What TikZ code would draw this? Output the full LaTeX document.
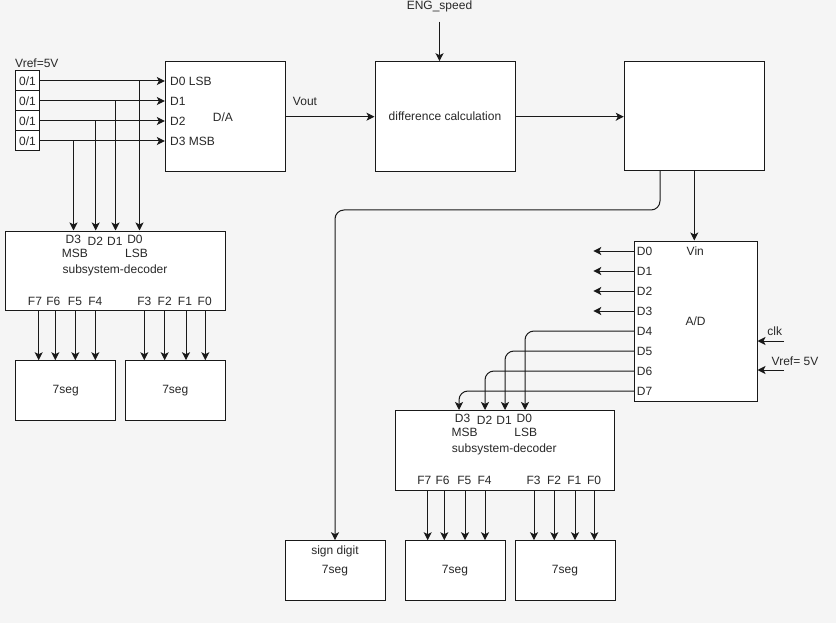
\documentclass[tikz,border=0pt]{standalone}
\usepackage{fontspec}
\setmainfont{Liberation Sans}
\usetikzlibrary{arrows.meta,calc}
\definecolor{bgc}{RGB}{245,245,245}
\definecolor{lnc}{RGB}{25,25,25}
\definecolor{txc}{RGB}{40,40,40}
\newcommand\myfs{\fontsize{12}{14}\selectfont}
\tikzset{
  box/.style={draw=lnc, fill=white, line width=1pt, inner sep=0pt, text=txc, font=\myfs},
  lbl/.style={inner sep=0pt, text=txc, font=\myfs},
  arr/.style={draw=lnc, line width=1pt, -{Stealth[length=8pt,width=8pt,inset=2pt]}},
  wire/.style={draw=lnc, line width=1pt},
}
\begin{document}
\begin{tikzpicture}[x=1pt,y=-1pt]
\fill[bgc] (0,0) rectangle (836,623);
\useasboundingbox (0,0) rectangle (836,623);

% ---------- left: bit inputs and D/A ----------
\node[lbl, anchor=west] (vref1) at (15,63) {Vref=5V};
\node[box, minimum width=24, minimum height=20] (b0) at (27.5,81) {0/1};
\node[box, minimum width=24, minimum height=20] (b1) at (27.5,101) {0/1};
\node[box, minimum width=24, minimum height=20] (b2) at (27.5,121) {0/1};
\node[box, minimum width=24, minimum height=20] (b3) at (27.5,141) {0/1};

\node[box, minimum width=120, minimum height=110] (da) at (225.3,116.7) {};
\node[lbl, anchor=west] (da0) at (170,81) {D0 LSB};
\node[lbl, anchor=west] (da1) at (170,101) {D1};
\node[lbl, anchor=west] (da2) at (170,121) {D2};
\node[lbl, anchor=west] (da3) at (170,141) {D3 MSB};
\node[lbl] (dat) at (223,117) {D/A};

\draw[arr] (b0.east) -- (b0.east -| da.west);
\draw[arr] (b1.east) -- (b1.east -| da.west);
\draw[arr] (b2.east) -- (b2.east -| da.west);
\draw[arr] (b3.east) -- (b3.east -| da.west);

% ---------- decoder 1 ----------
\node[box, minimum width=219.6, minimum height=79.7] (dec1) at (115.5,270.85) {};
\node[lbl] at (73.3,239.7) {D3};
\node[lbl] at (75,253.2) {MSB};
\node[lbl] at (95.3,241.7) {D2};
\node[lbl] at (114.8,241.7) {D1};
\node[lbl] at (135,239.7) {D0};
\node[lbl] at (136.5,253.2) {LSB};
\node[lbl] at (115,270.5) {subsystem-decoder};
\foreach \t/\x in {F7/35,F6/53.3,F5/75,F4/95.3,F3/144.3,F2/164.7,F1/185,F0/204.7}
  \node[lbl] at (\x,301.7) {\t};

\coordinate (t0) at (139.5,81);
\coordinate (t1) at (115.5,101);
\coordinate (t2) at (95.7,121);
\coordinate (t3) at (73.5,141);
\draw[arr] (t0) -- (t0 |- dec1.north);
\draw[arr] (t1) -- (t1 |- dec1.north);
\draw[arr] (t2) -- (t2 |- dec1.north);
\draw[arr] (t3) -- (t3 |- dec1.north);

\node[box, minimum width=100, minimum height=60] (s1a) at (65.7,390.7) {7seg};
\node[box, minimum width=100, minimum height=60] (s1b) at (175.3,390.7) {7seg};
\foreach \x in {38.7,55.3,75.3,95.3}
  \draw[arr] (\x,0 |- dec1.south) -- (\x,0 |- s1a.north);
\foreach \x in {144.3,164.7,186,205.3}
  \draw[arr] (\x,0 |- dec1.south) -- (\x,0 |- s1b.north);

% ---------- difference calculation ----------
\node[box, minimum width=140, minimum height=110] (diff) at (445,116.7) {difference calculation};
\node[box, minimum width=140, minimum height=109] (blk) at (694.3,116.2) {};
\node[lbl] (eng) at (439.5,6.5) {ENG\_speed};
\coordinate (engs) at (439.5,21.7);
\draw[arr] (engs) -- (engs |- diff.north);
\node[lbl] (vout) at (305,101) {Vout};
\draw[arr] (da.east) -- (da.east -| diff.west);
\draw[arr] (diff.east) -- (diff.east -| blk.west);

% ---------- A/D ----------
\node[box, minimum width=122.7, minimum height=160] (ad) at (695.65,321) {};
\draw[arr] (blk.south) -- (blk.south |- ad.north);
\node[lbl] at (695.3,251.3) {Vin};
\node[lbl] at (695.5,321.7) {A/D};
\foreach \i/\y in {0/251,1/271,2/291,3/311,4/331,5/351,6/371,7/391}
  \node[lbl, anchor=west] (adl\i) at (636.7,\y) {D\i};
\foreach \i/\y in {0/251,1/271,2/291,3/311}{
  \coordinate (ado\i) at (593.3,\y);
  \draw[arr] (ado\i -| ad.west) -- (ado\i);
}
\node[lbl] (clk) at (774.7,331.7) {clk};
\coordinate (clks) at (784,341);
\draw[arr] (clks) -- (clks -| ad.east);
\node[lbl] (vref2) at (795,361.3) {Vref= 5V};
\coordinate (vrs) at (784,370);
\draw[arr] (vrs) -- (vrs -| ad.east);

% ---------- decoder 2 ----------
\node[box, minimum width=219.6, minimum height=79.7] (dec2) at (505,450.35) {};
\node[lbl] at (462.6,418.7) {D3};
\node[lbl] at (464.6,432.2) {MSB};
\node[lbl] at (484.6,420.7) {D2};
\node[lbl] at (504.1,420.7) {D1};
\node[lbl] at (524.3,418.7) {D0};
\node[lbl] at (525.8,432.2) {LSB};
\node[lbl] at (504.3,449.5) {subsystem-decoder};
\foreach \t/\x in {F7/424.3,F6/442.6,F5/464.3,F4/484.6,F3/533.6,F2/554,F1/574.3,F0/594}
  \node[lbl] at (\x,480.7) {\t};

\draw[arr, rounded corners=9pt] (ad.west |- 0,331) -- (525,331) -- (525,0 |- dec2.north);
\draw[arr, rounded corners=9pt] (ad.west |- 0,351) -- (505,351) -- (505,0 |- dec2.north);
\draw[arr, rounded corners=9pt] (ad.west |- 0,371) -- (485,371) -- (485,0 |- dec2.north);
\draw[arr, rounded corners=9pt] (ad.west |- 0,391) -- (459,391) -- (459,0 |- dec2.north);

% ---------- bottom displays ----------
\node[box, minimum width=100, minimum height=60] (sgn) at (335,570.7) {};
\node[lbl] at (335,551) {sign digit};
\node[lbl] at (335,570.7) {7seg};
\node[box, minimum width=100, minimum height=60] (s2a) at (455,570.7) {7seg};
\node[box, minimum width=100, minimum height=60] (s2b) at (565,570.7) {7seg};
\foreach \x in {427.7,444.3,465,485}
  \draw[arr] (\x,0 |- dec2.south) -- (\x,0 |- s2a.north);
\foreach \x in {534,554.3,575,594.3}
  \draw[arr] (\x,0 |- dec2.south) -- (\x,0 |- s2b.north);

\draw[arr, rounded corners=9pt] (660,0 |- blk.south) -- (660,210) -- (sgn.north |- 0,210) -- (sgn.north);
\end{tikzpicture}
\end{document}
